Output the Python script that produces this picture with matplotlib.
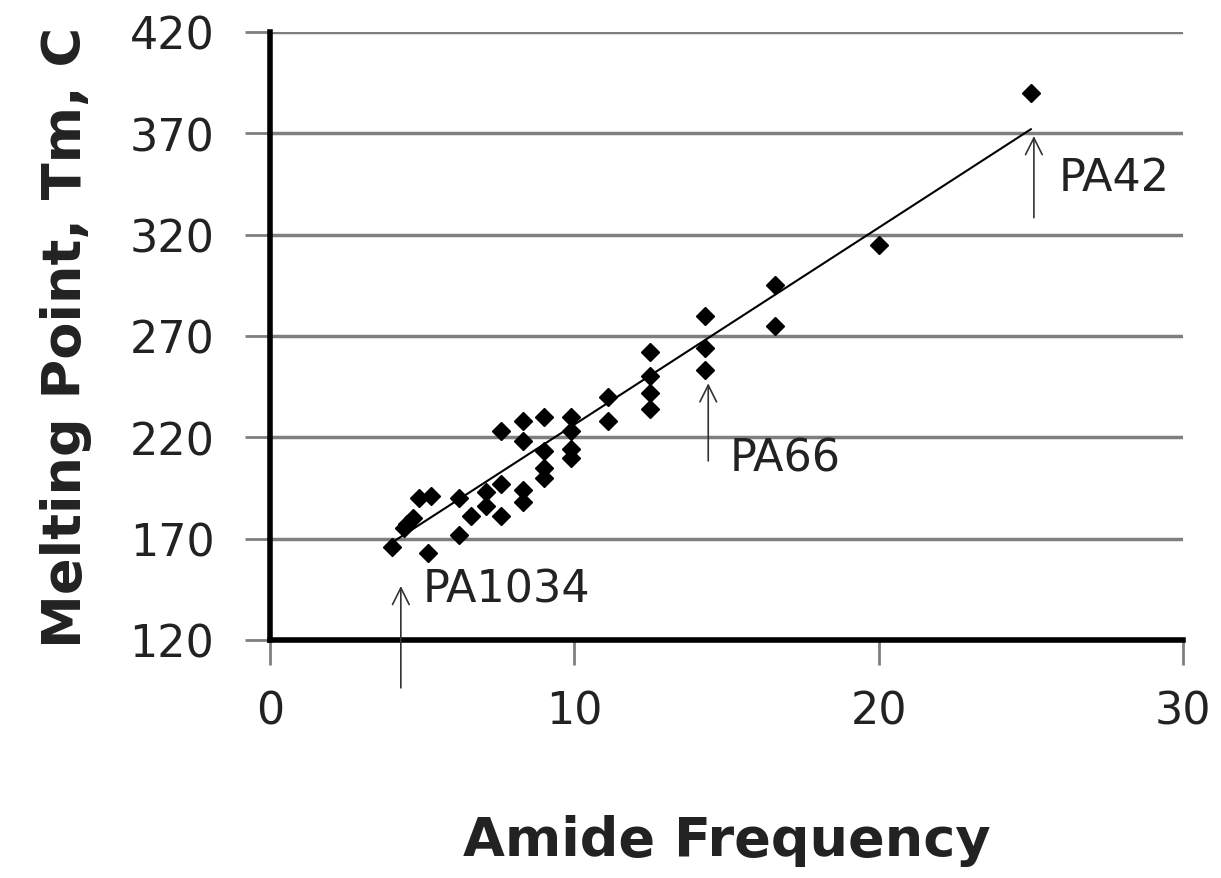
import matplotlib.pyplot as plt
import numpy as np

plt.rcParams['font.family'] = ['DejaVu Sans']

# amide frequency vs melting point
amide_freq = [4.0, 4.4, 4.5, 4.7, 5.2, 4.9, 5.3, 6.2, 6.2, 6.6, 7.1, 7.1,
              7.6, 7.6, 8.3, 8.3, 7.6, 8.3, 8.3, 9.0, 9.0, 9.0, 9.0,
              9.9, 9.9, 9.9, 9.9, 11.1, 11.1, 12.5, 12.5, 12.5, 12.5,
              14.3, 14.3, 14.3, 16.6, 16.6, 20.0, 25.0]
melt_point = [166, 175, 177, 180, 163, 190, 191, 190, 172, 181, 193, 186,
              197, 181, 194, 188, 223, 228, 218, 230, 213, 205, 200,
              230, 223, 214, 210, 240, 228, 262, 250, 242, 234,
              280, 264, 253, 295, 275, 315, 390]

trend_x = [3.9, 25.0]
trend_y = [167, 372]

labels = ['PA1034', 'PA66', 'PA42']
label_x = [4.3, 14.4, 25.1]
arrow_from = [95, 207, 327]
arrow_to = [148, 248, 370]
text_x = [5.0, 15.1, 25.9]
text_y = [145, 210, 348]

yticks = [120, 170, 220, 270, 320, 370, 420]
xticks = [0, 10, 20, 30]

fig = plt.figure(figsize=(12.21, 8.79), dpi=100)
ax = fig.add_axes([0.2211, 0.2708, 0.7478, 0.6917])

for yt in yticks[1:]:
    ax.axhline(yt, color='#7f7f7f', lw=2.5, zorder=1)

ax.plot(trend_x, trend_y, color='black', lw=1.5, zorder=2)
ax.plot(amide_freq, melt_point, 'D', color='black', markersize=9, zorder=3)

for i in range(len(labels)):
    ax.annotate('', xy=(label_x[i], arrow_to[i]), xytext=(label_x[i], arrow_from[i]),
                arrowprops=dict(arrowstyle='->', color='#333333', lw=1.2,
                                mutation_scale=30), annotation_clip=False)
    ax.text(text_x[i], text_y[i], labels[i], fontsize=32, va='center', ha='left',
            color='#222222')

ax.set_xlim(0, 30)
ax.set_ylim(120, 420)
ax.set_xticks(xticks)
ax.set_yticks(yticks)
ax.tick_params(axis='both', labelsize=32, colors='#222222')
ax.tick_params(axis='y', length=18, width=2, color='#7f7f7f', pad=22)
ax.tick_params(axis='x', length=18, width=2, color='#7f7f7f', pad=18)
ax.spines['top'].set_visible(False)
ax.spines['right'].set_visible(False)
ax.spines['left'].set_linewidth(4)
ax.spines['bottom'].set_linewidth(4)

ax.set_xlabel('Amide Frequency', fontsize=39, fontweight='bold', labelpad=58,
              color='#222222')
ax.set_ylabel('Melting Point, Tm, C', fontsize=39, fontweight='bold', labelpad=27,
              color='#222222')

fig.savefig('out.png', dpi=100)
